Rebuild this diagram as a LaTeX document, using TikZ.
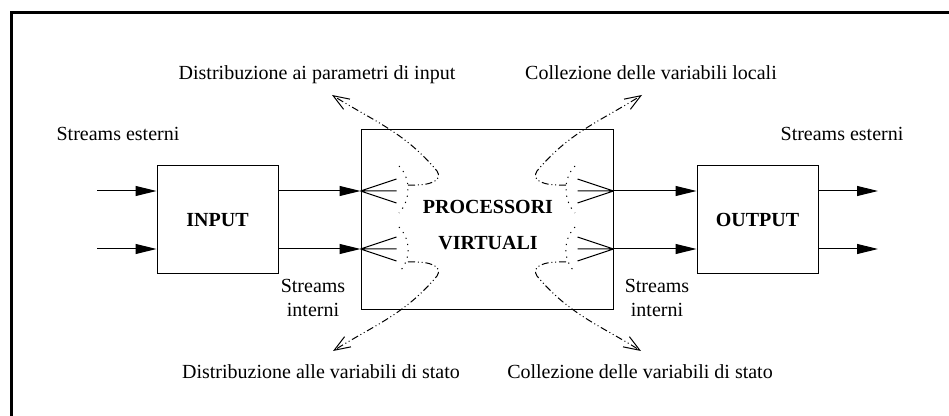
\documentclass[tikz,border=0pt]{standalone}
\usepackage{fontspec}
\setmainfont{Liberation Serif}
\usetikzlibrary{arrows.meta}
\begin{document}
\begin{tikzpicture}[x=0.5pt,y=-0.5pt,
  every node/.style={font=\fontsize{10}{12}\selectfont, inner sep=0pt},
  unit/.style={draw, line width=0.5pt, minimum width=60.5pt, minimum height=54pt},
  bigunit/.style={draw, line width=0.5pt, minimum width=126pt, minimum height=90pt},
  title/.style={font=\fontsize{10}{12}\selectfont\bfseries, align=center},
  flow/.style={line width=0.5pt, -{Triangle[length=10.5pt,width=5pt]}},
  fan/.style={line width=0.5pt},
  gather/.style={line width=0.5pt, dash pattern=on 0.6pt off 2.6pt},
  feed/.style={line width=0.5pt,
    dash pattern=on 3.5pt off 1.4pt on 0.5pt off 1.4pt on 0.5pt off 1.4pt,
    -{Straight Barb[length=8pt,width=6pt,line width=0.5pt]}}]
\useasboundingbox (0,0) rectangle (949,416);
\clip (0,0) rectangle (949,416);

% outer frame (only its left and top sides fall on the page)
\draw[line width=1.5pt] (11.5,430) -- (11.5,13) -- (960,13);

% blocks
\node[unit] (inp) at (217.5,220) {};
\node[title] at (inp.center) {INPUT};
\node[bigunit] (proc) at (487,220) {};
\node[title] (proclbl) at (488,225) {PROCESSORI\\[6pt]VIRTUALI};
\node[unit] (out) at (757.5,220) {};
\node[title] at (out.center) {OUTPUT};

% stream rows
\coordinate (r1) at (97,191);
\coordinate (r2) at (97,249);
\coordinate (s1) at (878,191);
\coordinate (s2) at (878,249);

\foreach \r in {r1,r2}{
  \draw[flow] (\r) -- (\r -| inp.west);
  \draw[flow] (inp.east |- \r) -- (proc.west |- \r);
  \draw[flow] (proc.east |- \r) -- (out.west |- \r);
}
\foreach \s in {s1,s2}{
  \draw[flow] (out.east |- \s) -- (\s);
}

% fans at the processor borders
\foreach \r in {r1,r2}{
  \coordinate (pl) at (proc.west |- \r);
  \coordinate (pr) at (proc.east |- \r);
  \draw[fan] (pl) -- ++(36,-12) (pl) -- ++(36,0) (pl) -- ++(36,12);
  \draw[fan] (pr) -- ++(-36,-12) (pr) -- ++(-36,0) (pr) -- ++(-36,12);
}

% dotted groupings
\draw[gather] (399,166) .. controls (411,178) and (411,200) .. (399,213);
\draw[gather] (399,227) .. controls (411,240) and (411,258) .. (401,270);
\draw[gather] (575,166) .. controls (563,178) and (563,200) .. (575,213);
\draw[gather] (575,227) .. controls (563,240) and (563,258) .. (573,270);

% labels
\node (lse) at (118,134) {Streams esterni};
\node (rse) at (842,134) {Streams esterni};
\node[align=center] (lsi) at (313,298) {Streams\\interni};
\node[align=center] (rsi) at (657,298) {Streams\\interni};
\node (dpi) at (317,75) {Distribuzione ai parametri di input};
\node (cvl) at (651,73) {Collezione delle variabili locali};
\node (dvs) at (321,372) {Distribuzione alle variabili di stato};
\node (cvs) at (640,372) {Collezione delle variabili di stato};

% distribution / collection paths
\coordinate (dpiTip) at (332,95);
\coordinate (dvsTip) at (333,351);
\coordinate (cvlTip) at (642,95);
\coordinate (cvsTip) at (641,351);
\draw[feed] (408,185) .. controls (432,186) and (443,180) .. (437,171)
  to[out=130,in=-32] (dpiTip);
\draw[feed] (408,262) .. controls (432,261) and (443,267) .. (437,276)
  to[out=-130,in=32] (dvsTip);
\draw[feed] (566,185) .. controls (542,186) and (531,180) .. (537,171)
  to[out=50,in=-148] (cvlTip);
\draw[feed] (566,262) .. controls (542,261) and (531,267) .. (537,276)
  to[out=-50,in=148] (cvsTip);
\end{tikzpicture}
\end{document}
